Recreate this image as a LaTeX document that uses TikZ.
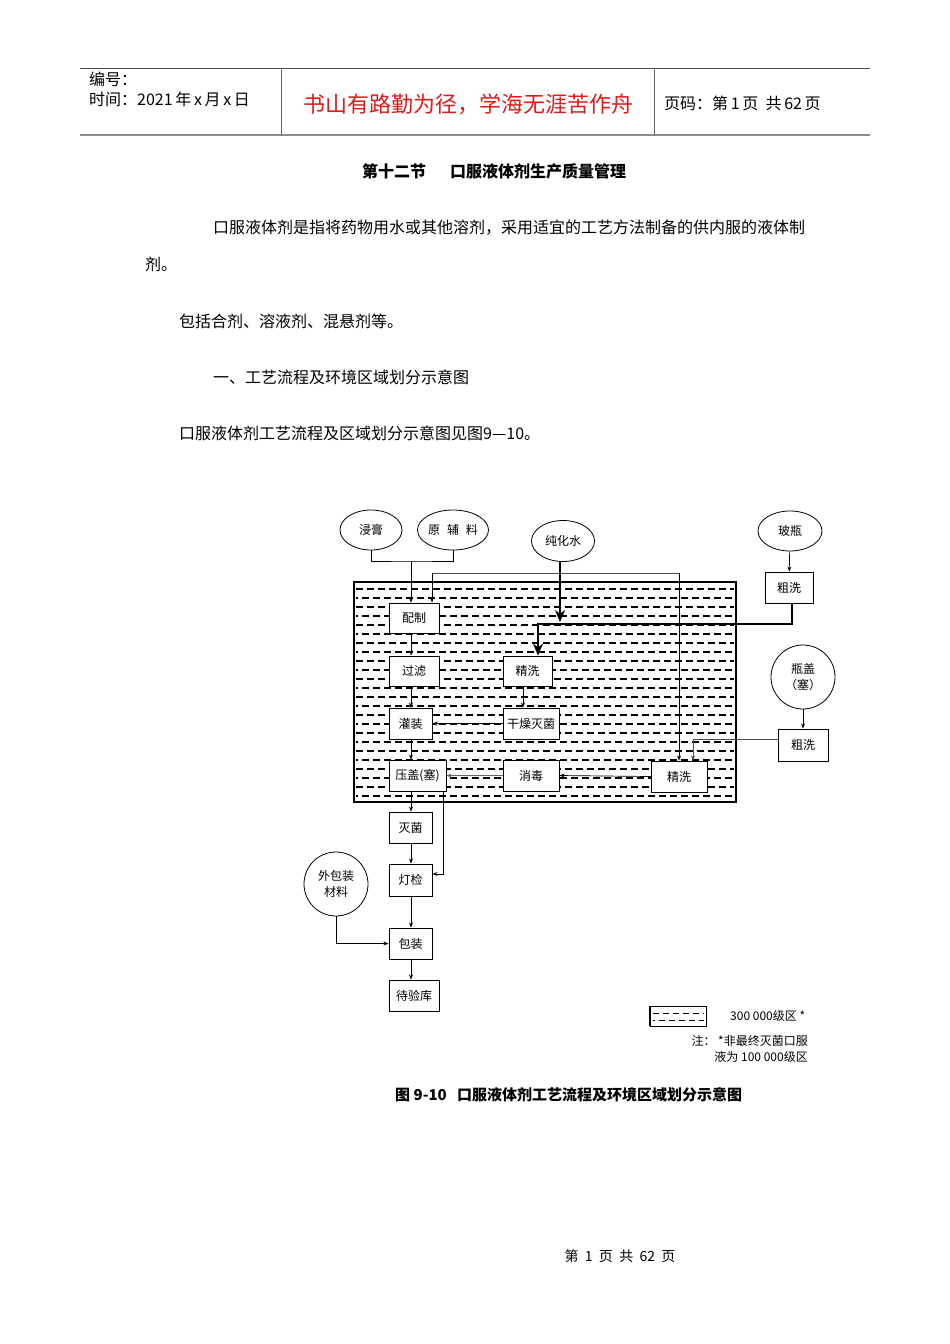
\documentclass[tikz,border=0pt]{standalone}
\usepackage{fontspec}
\setmainfont{Noto Sans CJK SC}
\usetikzlibrary{arrows.meta,shapes.geometric}
\definecolor{mottored}{RGB}{225,25,25}

\begin{document}
\begin{tikzpicture}[x=1pt, y=-1pt, >={Stealth[length=5pt,width=4pt]},
        proc node/.style={draw, line width=1pt, fill=white, minimum height=31pt, inner sep=1pt, font=\fontsize{12}{12}\selectfont},
        src node/.style={ellipse, draw, line width=0.8pt, fill=white, minimum width=62pt, minimum height=40pt, inner sep=0pt, font=\fontsize{12}{12}\selectfont},
        circ node/.style={circle, draw, line width=0.8pt, fill=white, minimum size=64pt, inner sep=0pt, align=center, font=\fontsize{12}{16}\selectfont},
        body text/.style={anchor=west, inner sep=0pt, font=\fontsize{16}{16}\selectfont},
        head text/.style={anchor=west, inner sep=0pt, font=\fontsize{16}{16}\selectfont},
        flow/.style={line width=0.7pt},
        big arrow/.style={-{Stealth[length=12pt,width=10pt]}, line width=1.1pt}]

    \fill[white] (0,0) rectangle (950,1344);
    \useasboundingbox (0,0) rectangle (950,1344);

    % 页眉
    \draw[line width=1pt, black!70] (80,68) -- (870,68);
    \draw[line width=2pt, black!45] (80,135) -- (870,135);
    \draw[line width=0.8pt, black!60] (281,68) -- (281,135);
    \draw[line width=0.8pt, black!60] (654,68) -- (654,135);
    \node[head text] (bianhao) at (89,79) {编号：};
    \node[head text] (shijian) at (89,99) {时间：2021\,年\,x\,月\,x\,日};
    \node[inner sep=0pt, text=mottored, font=\fontsize{22}{22}\selectfont] (motto) at (468,104) {书山有路勤为径，学海无涯苦作舟};
    \node[head text] (yema) at (664,103) {页码：第\,1\,页\ \ 共\,62\,页};

    % 正文
    \node[body text, font=\bfseries\fontsize{16}{16}\selectfont] (jie) at (362,171) {第十二节};
    \node[body text, font=\bfseries\fontsize{16}{16}\selectfont] (title) at (450,171) {口服液体剂生产质量管理};
    \node[body text] (para1) at (213,228) {口服液体剂是指将药物用水或其他溶剂，采用适宜的工艺方法制备的供内服的液体制};
    \node[body text] (para2) at (145,264) {剂。};
    \node[body text] (para3) at (179,321) {包括合剂、溶液剂、混悬剂等。};
    \node[body text] (para4) at (213,377) {一、工艺流程及环境区域划分示意图};
    \node[body text] (para5) at (179,433) {口服液体剂工艺流程及区域划分示意图见图9—10。};

    % 洁净区
    \foreach \i [evaluate=\i as \yy using {589+9*\i}, evaluate=\i as \ph using {mod(\i,2)*5}] in {0,...,23}
        \draw[line width=1.2pt, dash pattern=on 7pt off 4pt, dash phase=\ph pt] (356,\yy) -- (734,\yy);
    \draw[line width=1.8pt] (354,582) rectangle (736,802);

    % 物料
    \node[src node] (jin) at (371,530) {浸膏};
    \node[src node, minimum width=71pt] (yuan) at (453,530) {原\hspace{7pt}辅\hspace{7pt}料};
    \node[src node, minimum width=63pt, minimum height=41pt] (shui) at (563,541) {纯化水};
    \node[src node, minimum width=64pt] (boping) at (790,531) {玻瓶};
    \node[proc node, minimum width=48pt] (cuxi1) at (789,587.5) {粗洗};
    \node[circ node] (pinggai) at (803,677) {瓶盖\\（塞）};
    \node[proc node, minimum width=50pt, minimum height=32pt] (cuxi2) at (803,745) {粗洗};
    \node[circ node] (waibao) at (336,884) {外包装\\材料};

    % 工序
    \node[proc node, minimum width=50pt, minimum height=30pt] (peizhi) at (414,618) {配制};
    \node[proc node, minimum width=50pt, minimum height=30pt] (guolv) at (414,671) {过滤};
    \node[proc node, minimum width=49pt, minimum height=30pt] (jingxi1) at (527.5,671) {精洗};
    \node[proc node, minimum width=43pt] (guanzhuang) at (410.5,723.5) {灌装};
    \node[proc node, minimum width=56pt] (ganzao) at (531,723.5) {干燥灭菌};
    \node[proc node, minimum width=57pt] (yagai) at (417.5,775.5) {压盖(塞)};
    \node[proc node, minimum width=56pt] (xiaodu) at (531,775.5) {消毒};
    \node[proc node, minimum width=56pt] (jingxi2) at (679,776.5) {精洗};
    \node[proc node, minimum width=43pt] (miejun) at (410.5,827.5) {灭菌};
    \node[proc node, minimum width=43pt, minimum height=32pt] (dengjian) at (410.5,880) {灯检};
    \node[proc node, minimum width=43pt] (baozhuang) at (410.5,943.5) {包装};
    \node[proc node, minimum width=50pt] (daiyan) at (414,995.5) {待验库};

    % 连线
    \coordinate (axis) at (411,0);
    \coordinate (mix) at (411,561);
    \coordinate (wl) at (432,573);
    \coordinate (wr) at (679,573);
    \coordinate (wend) at (560,622);
    \coordinate (bl) at (538,624);
    \coordinate (br) at (792,0);
    \coordinate (gz) at (523,0);
    \coordinate (cl) at (693,739);
    \coordinate (side) at (443,874);
    \draw[flow] (jin.south) |- (mix) -| (yuan.south);
    \draw[flow, ->] (mix) -- (axis |- peizhi.north);
    \draw[flow, black!70] (wl) -- (wr);
    \draw[flow, ->] (wl) -- (wl |- peizhi.north);
    \draw[flow, ->] (wr) -- (wr |- jingxi2.north);
    \draw[big arrow] (shui.south -| wend) -- (wend);
    \draw[flow, ->] (boping) -- (cuxi1);
    \draw[big arrow] (br |- cuxi1.south) |- (bl) -- (bl |- jingxi1.north);
    \draw[flow, ->] (axis |- peizhi.south) -- (axis |- guolv.north);
    \draw[flow, ->] (axis |- guolv.south) -- (axis |- guanzhuang.north);
    \draw[flow, ->] (axis |- guanzhuang.south) -- (axis |- yagai.north);
    \draw[flow, ->] (axis |- yagai.south) -- (axis |- miejun.north);
    \draw[flow, ->] (axis |- miejun.south) -- (axis |- dengjian.north);
    \draw[flow, ->] (axis |- dengjian.south) -- (axis |- baozhuang.north);
    \draw[flow, ->] (axis |- baozhuang.south) -- (axis |- daiyan.north);
    \draw[flow, ->] (gz |- jingxi1.south) -- (gz |- ganzao.north);
    \draw[flow, ->] (ganzao.west) -- (guanzhuang.east);
    \draw[flow, ->, black!60] (xiaodu.west) -- (yagai.east);
    \draw[flow, ->] (jingxi2.west) -- (xiaodu.east);
    \draw[flow, ->] (pinggai) -- (cuxi2);
    \draw[flow, ->, black!70] (cuxi2.west |- cl) -- (cl) -- (cl |- jingxi2.north);
    \draw[flow, ->] (side |- yagai.south) -- (side) -- (side -| dengjian.east);
    \draw[flow, ->] (waibao.south) |- (baozhuang.west);

    % 图例
    \draw[line width=0.8pt] (650,1006) rectangle (706,1026);
    \draw[line width=1.6pt] (650,1006) -- (650,1026);
    \draw[line width=1pt, dash pattern=on 6pt off 4pt] (653,1013) -- (704,1013);
    \draw[line width=1pt, dash pattern=on 6pt off 4pt, dash phase=4pt] (653,1020) -- (704,1020);
    \node[anchor=west, inner sep=0pt, font=\fontsize{12}{12}\selectfont] (grade) at (730,1016) {300 000级区 *};
    \node[anchor=east, inner sep=0pt, font=\fontsize{12}{12}\selectfont] (note1) at (808,1041) {注：\ *非最终灭菌口服};
    \node[anchor=east, inner sep=0pt, font=\fontsize{12}{12}\selectfont] (note2) at (808,1057) {液为 100 000级区};

    % 图题
    \node[anchor=west, inner sep=0pt, font=\bfseries\fontsize{15}{15}\selectfont] (fignum) at (395,1095) {图 9-10};
    \node[anchor=west, inner sep=0pt, font=\bfseries\fontsize{15}{15}\selectfont] (figtitle) at (457,1095) {口服液体剂工艺流程及环境区域划分示意图};

    % 页脚
    \node[inner sep=0pt, font=\fontsize{14}{14}\selectfont] (footer) at (620,1256) {第\ \ 1\ \ 页\ \ 共\ \ 62\ \ 页};
\end{tikzpicture}
\end{document}
